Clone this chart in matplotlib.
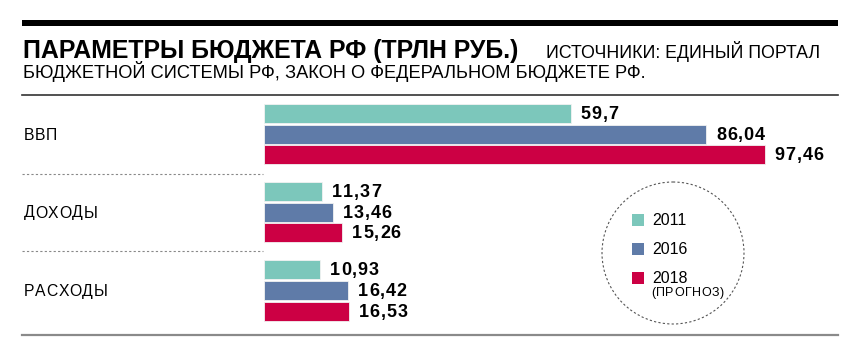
import matplotlib
matplotlib.use("Agg")
import matplotlib.pyplot as plt
from matplotlib.patches import Ellipse, Rectangle
from matplotlib.font_manager import FontProperties, findfont, get_font
from matplotlib.transforms import offset_copy

categories = ["ВВП", "ДОХОДЫ", "РАСХОДЫ"]
series_names = ["2011", "2016", "2018"]
v2011 = [59.7, 11.37, 10.93]
v2016 = [86.04, 13.46, 16.42]
v2018 = [97.46, 15.26, 16.53]
colors = ["#7cc7bb", "#5f7ba8", "#cc0044"]

title = "ПАРАМЕТРЫ БЮДЖЕТА РФ (ТРЛН РУБ.)"
sub1 = "ИСТОЧНИКИ: ЕДИНЫЙ ПОРТАЛ"
sub2 = "БЮДЖЕТНОЙ СИСТЕМЫ РФ, ЗАКОН О ФЕДЕРАЛЬНОМ БЮДЖЕТЕ РФ."
note = "(ПРОГНОЗ)"

body = "Liberation Sans"
DPI = 100
W, H = 855, 360
fig = plt.figure(figsize=(W / DPI, H / DPI), dpi=DPI)
fig.patch.set_facecolor("white")
renderer = fig.canvas.get_renderer()


def tracked(ax, x, y, s, size, weight="normal", track=0.0, transform=None, va="baseline"):
    fp = FontProperties(family=body, weight=weight, size=size)
    font = get_font(findfont(fp))
    font.set_size(size, DPI)
    off = 0.0
    tr = transform if transform is not None else ax.transData
    for ch in s:
        ax.text(x, y, ch, fontproperties=fp, va=va, ha="left",
                transform=offset_copy(tr, fig=fig, x=off, y=0, units="dots"))
        g = font.load_char(ord(ch))
        off += g.linearHoriAdvance / 65536 + track


def fitted(ax, x, y, s, width_px, weight="normal"):
    t = ax.text(x, y, s, fontsize=12, family=body, fontweight=weight, va="baseline", ha="left")
    w = t.get_window_extent(renderer=renderer).width
    t.set_fontsize(12 * width_px / w)
    return t


# overlay axes in pixel coords
ov = fig.add_axes([0, 0, 1, 1])
ov.set_xlim(0, W)
ov.set_ylim(H, 0)
ov.axis("off")

ov.add_patch(Rectangle((22, 20), 816, 6, color="black", lw=0))
fitted(ov, 23, 58, title, 497, weight="bold")
fitted(ov, 546, 58, sub1, 272)
fitted(ov, 23, 78, sub2, 622)
ov.plot([22, 838], [95, 95], color="#333333", lw=1.2)
ov.plot([22, 263], [174, 174], color="#888888", lw=0.8, ls=(0, (2, 2)))
ov.plot([22, 263], [251, 251], color="#888888", lw=0.8, ls=(0, (2, 2)))
ov.plot([22, 838], [335, 335], color="#8a8a8a", lw=1.6)

# legend circle
ov.add_patch(Ellipse((673, 253), 142, 142, fill=False, ec="#555555", lw=0.8,
                     ls=(0, (2, 2))))
leg_y = [220, 249, 278]
for c, n, y in zip(colors, series_names, leg_y):
    ov.add_patch(Rectangle((632, y - 6), 12, 12, color=c, lw=0))
    ov.text(652, y + 0.5, n, fontsize=11.5, family=body, va="center", ha="left")
tracked(ov, 651, 293, note, 9, track=0.6, va="center")

# bars axes
x0, x1 = 264, 838
scale = 5.14
ax = fig.add_axes([x0 / W, 0, (x1 - x0) / W, 1])
ax.set_xlim(0, (x1 - x0) / scale)
ax.set_ylim(H, 0)
ax.axis("off")
ax.patch.set_alpha(0)

centers = [134, 212, 290.5]
offs = [-20.7, 0, 20.7]
bh = 19
for si, vals in enumerate([v2011, v2016, v2018]):
    ys = [c + offs[si] for c in centers]
    ax.barh(ys, vals, height=bh, color=colors[si], edgecolor="#f2f2f2", linewidth=0.6)
    for y, v in zip(ys, vals):
        lab = f"{v:g}".replace(".", ",")
        tracked(ax, v + 1.9, y + 1, lab, 13, weight="bold", track=0.9, va="center")

for c, name in zip(centers, categories):
    tracked(ov, 24, c + 1, name, 11.3, track=0.6, va="center")

fig.savefig("out.png", dpi=DPI)
